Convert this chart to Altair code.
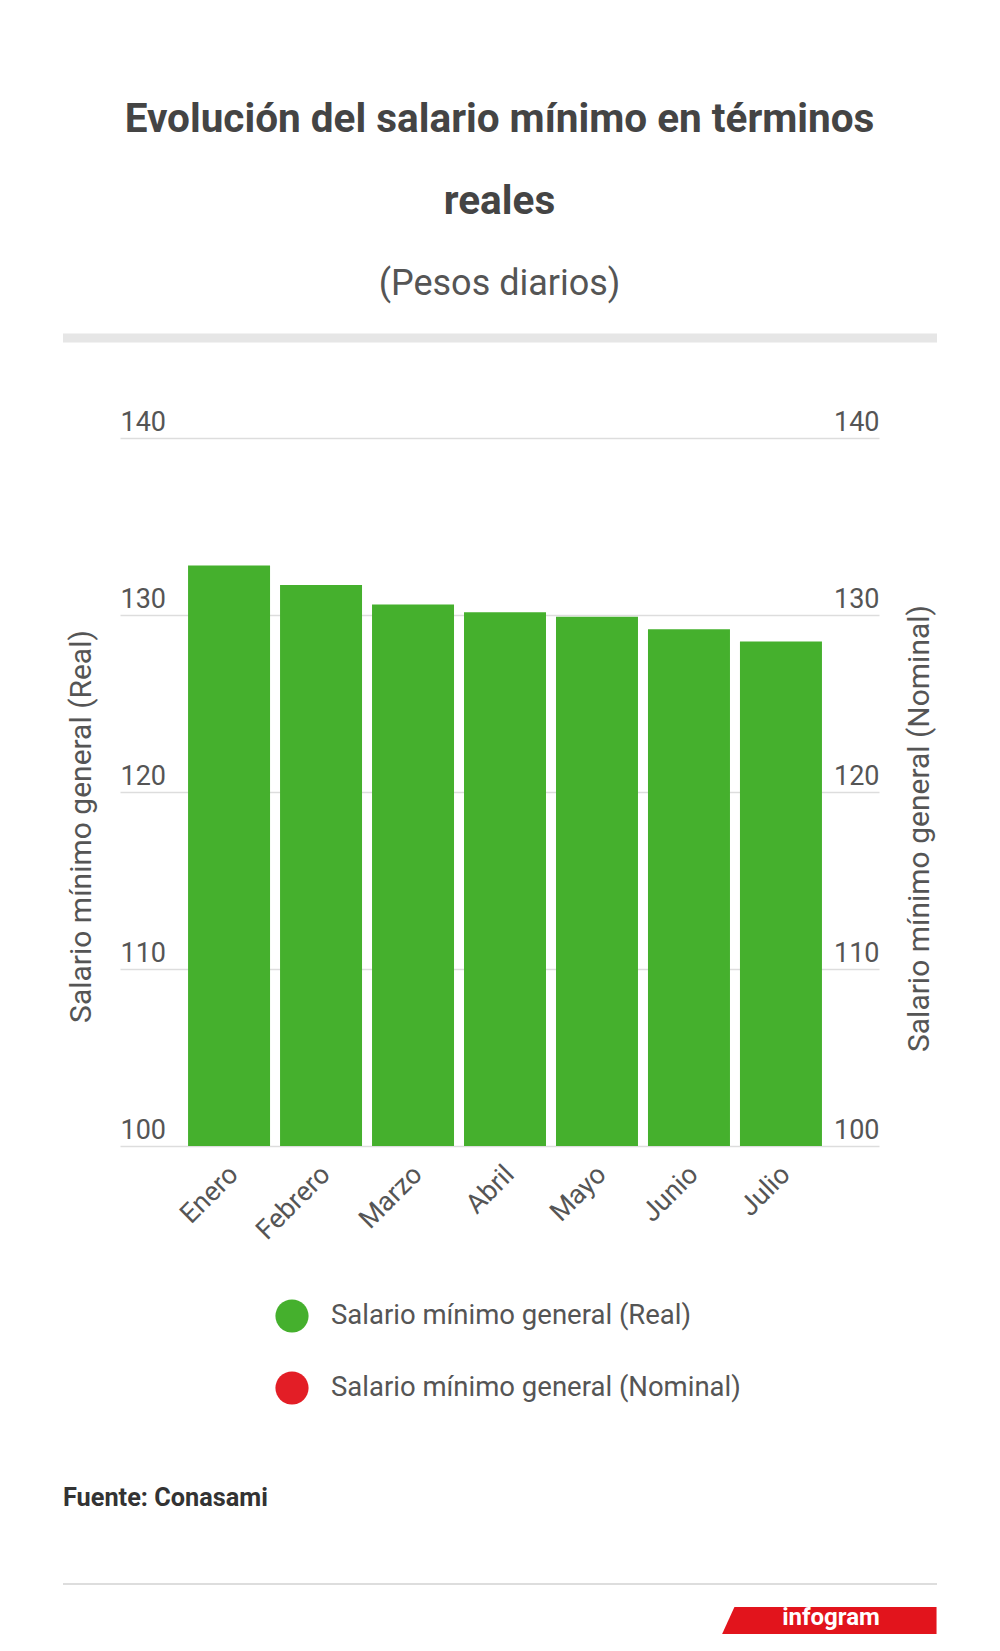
import altair as alt
import pandas as pd

meses = ["Enero", "Febrero", "Marzo", "Abril", "Mayo", "Junio", "Julio"]
real = [132.8, 131.7, 130.6, 130.15, 129.9, 129.2, 128.5]
series = ["Salario mínimo general (Real)", "Salario mínimo general (Nominal)"]
series_colors = ["#45b02d", "#e31e26"]
y_ticks = [100, 110, 120, 130, 140]

df = pd.DataFrame({"mes": meses, "valor": real, "serie": series[0]})

W, H = 759, 708
FONT = "Roboto"

x_enc = alt.X(
    "mes:N",
    sort=meses,
    title=None,
    scale=alt.Scale(paddingInner=0.1087, paddingOuter=0.68, align=0.544),
    axis=alt.Axis(
        labelAngle=315, labelAlign="right", labelBaseline="middle",
        labelPadding=24, labelOffset=5, labelFontSize=27, labelColor="#555555",
        labelFont=FONT, ticks=False, domain=False, grid=False,
    ),
)

bars = alt.Chart(df).mark_bar(color=series_colors[0], clip=True).encode(
    x=x_enc,
    y=alt.Y(
        "valor:Q",
        scale=alt.Scale(domain=[100, 140], nice=False, zero=False),
        axis=alt.Axis(
            values=y_ticks, orient="left", title=series[0],
            titleFontSize=30, titleFontWeight="normal", titleColor="#555555",
            titleFont=FONT, titleAngle=270, titleBaseline="middle",
            titleX=-39, titleY=388,
            labelAlign="left", labelBaseline="bottom", labelPadding=0,
            labelOffset=-2, labelFontSize=27, labelColor="#555555",
            labelFont=FONT, ticks=False, domain=False,
            grid=True, gridColor="#dddddd", gridWidth=1.5,
        ),
    ),
    y2=alt.datum(100),
    color=alt.Color(
        "serie:N",
        scale=alt.Scale(domain=series, range=series_colors),
        legend=alt.Legend(
            title=None, orient="none", legendX=155, legendY=861,
            direction="vertical", symbolType="circle", symbolSize=1100,
            symbolStrokeWidth=0, labelFontSize=27.5, labelColor="#555555",
            labelFont=FONT, labelOffset=22, rowPadding=38, labelLimit=700,
        ),
    ),
)

right = alt.Chart(df).mark_point(opacity=0).encode(
    x=alt.X("mes:N", sort=meses),
    y=alt.Y(
        "valor:Q",
        scale=alt.Scale(domain=[100, 140], nice=False, zero=False),
        axis=alt.Axis(
            values=y_ticks, orient="right", title="Salario mínimo general (Nominal)",
            titleFontSize=30, titleFontWeight="normal", titleColor="#555555",
            titleFont=FONT, titleAngle=270, titleBaseline="middle",
            titleX=40, titleY=390,
            labelAlign="right", labelBaseline="bottom", labelPadding=0,
            labelOffset=-2, labelFontSize=27, labelColor="#555555",
            labelFont=FONT, ticks=False, domain=False, grid=False,
        ),
    ),
)

deco = pd.DataFrame({"k": [0]})
top_bar = alt.Chart(deco).mark_rule(color="#e6e6e6", strokeWidth=9).encode(
    x=alt.value(-57), x2=alt.value(817), y=alt.value(-100)
)
foot_line = alt.Chart(deco).mark_rule(color="#dddddd", strokeWidth=2).encode(
    x=alt.value(-57), x2=alt.value(817), y=alt.value(1146)
)
fuente = alt.Chart(pd.DataFrame({"t": ["Fuente: Conasami"]})).mark_text(
    align="left", baseline="alphabetic", font=FONT, fontSize=25.3,
    fontWeight="bold", color="#333333",
).encode(x=alt.value(-57), y=alt.value(1068), text="t:N")
badge = alt.Chart(deco).mark_point(
    shape="M -1 0.34 L -0.845 0 L 1 0 L 1 0.34 Z",
    filled=True, fill="#e2141c", opacity=1, strokeWidth=0, size=48000,
).encode(x=alt.value(707), y=alt.value(1169))
badge_txt = alt.Chart(pd.DataFrame({"t": ["infogram"]})).mark_text(
    align="center", baseline="alphabetic", font=FONT, fontSize=24,
    fontWeight="bold", color="white",
).encode(x=alt.value(711), y=alt.value(1187), text="t:N")

chart = alt.layer(
    bars, right, top_bar, foot_line, fuente, badge, badge_txt
).resolve_scale(y="independent").properties(
    width=W, height=H,
    title=alt.TitleParams(
        text=["Evolución del salario mínimo en términos", "reales"],
        subtitle="(Pesos diarios)",
        font=FONT, fontSize=40.5, fontWeight="bold", color="#444444",
        lineHeight=82, subtitleFont=FONT, subtitleFontSize=36,
        subtitleColor="#555555", subtitlePadding=44,
        anchor="middle", frame="group", offset=32,
    ),
    autosize=alt.AutoSizeParams(type="none"),
    padding={"left": 112, "top": 430, "right": 113, "bottom": 488},
).configure_view(stroke=None)

chart.save("out.html", embed_options={"renderer": "svg", "actions": False})
